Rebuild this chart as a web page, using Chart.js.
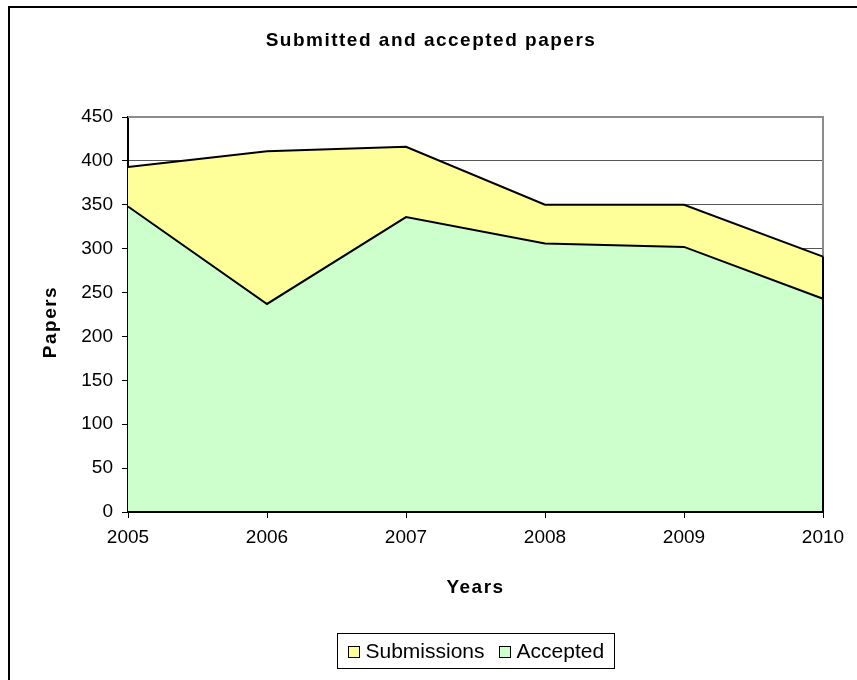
<!DOCTYPE html>
<html>
<head>
<meta charset="utf-8">
<script src="https://cdn.jsdelivr.net/npm/chart.js@4.4.1/dist/chart.umd.min.js"></script>
<style>
  html, body { margin: 0; padding: 0; background: #ffffff; }
  #wrap { width: 857px; height: 680px; }
</style>
</head>
<body>
<div id="wrap"><canvas id="papers" width="857" height="680"></canvas></div>
<script>
// Papers per year
const years = ['2005', '2006', '2007', '2008', '2009', '2010'];
const submissions = [393, 411, 416, 350, 350, 291];
const accepted = [348, 237, 336, 306, 302, 243];

// Value axis
const yMin = 0;
const yMax = 450;
const yStep = 50;

// Texts
const chartTitle = 'Submitted and accepted papers';
const xTitle = 'Years';
const yTitle = 'Papers';
const seriesNames = ['Submissions', 'Accepted'];

const FONT = "'Liberation Sans', Arial, Helvetica, sans-serif";

// Frame, titles, plot border, area edges and the boxed legend
const decorations = {
  id: 'decorations',
  beforeDraw(chart) {
    const ctx = chart.ctx;
    ctx.save();
    ctx.fillStyle = '#ffffff';
    ctx.fillRect(0, 0, chart.width, chart.height);
    // outer chart frame (top and left edges are inside the canvas)
    ctx.strokeStyle = '#000000';
    ctx.lineWidth = 2;
    ctx.beginPath();
    ctx.moveTo(9, chart.height + 2);
    ctx.lineTo(9, 7);
    ctx.lineTo(chart.width + 2, 7);
    ctx.stroke();
    ctx.restore();
  },
  beforeDatasetsDraw(chart) {
    const {ctx, chartArea: a} = chart;
    ctx.save();
    ctx.strokeStyle = '#8c8c8c';
    ctx.lineWidth = 2;
    ctx.beginPath();
    ctx.moveTo(a.left, a.top);
    ctx.lineTo(a.right, a.top);
    ctx.lineTo(a.right, a.bottom);
    ctx.stroke();
    ctx.restore();
  },
  afterDatasetsDraw(chart) {
    // close each area on its right end with a vertical edge down to the baseline
    const ctx = chart.ctx;
    const base = chart.scales.y.getPixelForValue(0);
    ctx.save();
    ctx.strokeStyle = '#000000';
    ctx.lineWidth = 2;
    chart.data.datasets.forEach((ds, i) => {
      const pts = chart.getDatasetMeta(i).data;
      const last = pts[pts.length - 1];
      ctx.beginPath();
      ctx.moveTo(last.x, last.y);
      ctx.lineTo(last.x, base);
      ctx.stroke();
    });
    ctx.beginPath();
    ctx.moveTo(chart.chartArea.left, base);
    ctx.lineTo(chart.chartArea.right, base);
    ctx.stroke();
    ctx.restore();
  },
  afterDraw(chart) {
    const {ctx, chartArea: a} = chart;
    ctx.save();
    ctx.fillStyle = '#000000';
    ctx.textBaseline = 'middle';
    ctx.textAlign = 'center';
    if ('letterSpacing' in ctx) ctx.letterSpacing = '1.5px';
    ctx.font = 'bold 19px ' + FONT;
    ctx.fillText(chartTitle, 431, 41);
    ctx.fillText(xTitle, (a.left + a.right) / 2, 588);
    ctx.save();
    ctx.translate(51, 322);
    ctx.rotate(-Math.PI / 2);
    ctx.fillText(yTitle, 0, 0);
    ctx.restore();
    if ('letterSpacing' in ctx) ctx.letterSpacing = '0px';

    // legend
    ctx.font = '21px ' + FONT;
    ctx.textAlign = 'left';
    const box = 11, gapText = 7, gapItem = 14, padX = 10;
    const widths = chart.data.datasets.map(ds => box + gapText + ctx.measureText(ds.label).width);
    const inner = widths.reduce((s, w) => s + w, 0) + gapItem * (widths.length - 1);
    const total = inner + padX * 2;
    const left = Math.round((a.left + a.right) / 2 - total / 2) + 0.5;
    const top = 633.5, h = 35, cy = top + h / 2;
    ctx.strokeStyle = '#000000';
    ctx.lineWidth = 1;
    ctx.strokeRect(left, top, Math.round(total), h);
    let x = left + padX;
    chart.data.datasets.forEach((ds, i) => {
      const by = Math.round(cy - box / 2) + 0.5;
      ctx.fillStyle = ds.backgroundColor;
      ctx.fillRect(Math.round(x) + 0.5, by, box, box);
      ctx.strokeRect(Math.round(x) + 0.5, by, box, box);
      ctx.fillStyle = '#000000';
      ctx.fillText(ds.label, x + box + gapText, cy + 1);
      x += widths[i] + gapItem;
    });
    ctx.restore();
  }
};

new Chart(document.getElementById('papers'), {
  type: 'line',
  data: {
    labels: years,
    datasets: [
      {
        label: seriesNames[0],
        data: submissions,
        backgroundColor: '#FFFF99',
        borderColor: '#000000',
        borderWidth: 2,
        fill: 'origin',
        pointRadius: 0,
        tension: 0,
        order: 2
      },
      {
        label: seriesNames[1],
        data: accepted,
        backgroundColor: '#CCFFCC',
        borderColor: '#000000',
        borderWidth: 2,
        fill: 'origin',
        pointRadius: 0,
        tension: 0,
        order: 1
      }
    ]
  },
  options: {
    responsive: false,
    devicePixelRatio: 1,
    animation: false,
    layout: { padding: { top: 117, left: 0, right: 34, bottom: 128 } },
    plugins: {
      legend: { display: false },
      title: { display: false },
      tooltip: { enabled: false }
    },
    scales: {
      x: {
        type: 'category',
        offset: false,
        afterFit(scale) { scale.height = 40; },
        grid: {
          drawOnChartArea: false,
          drawTicks: true,
          tickLength: 6,
          tickColor: '#000000',
          tickWidth: 1
        },
        border: { display: true, color: '#000000', width: 2 },
        ticks: {
          color: '#000000',
          font: { family: FONT, size: 19 },
          padding: 8,
          maxRotation: 0,
          autoSkip: false
        }
      },
      y: {
        min: yMin,
        max: yMax,
        afterFit(scale) { scale.width = 128; },
        grid: {
          color: '#555555',
          lineWidth: 1,
          drawTicks: true,
          tickLength: 6,
          tickColor: '#000000',
          tickWidth: 1
        },
        border: { display: true, color: '#000000', width: 2 },
        ticks: {
          stepSize: yStep,
          color: '#000000',
          font: { family: FONT, size: 19 },
          padding: 9
        }
      }
    }
  },
  plugins: [decorations]
});
</script>
</body>
</html>
